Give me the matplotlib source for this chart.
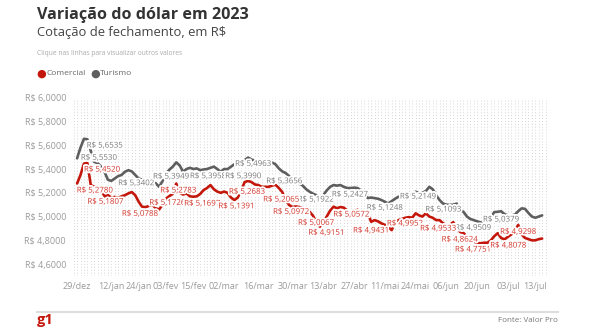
import numpy as np
import pandas as pd
import matplotlib
matplotlib.use('Agg')
import matplotlib.pyplot as plt
import matplotlib.patheffects as pe

plt.rcParams['font.family'] = ['Open Sans', 'DejaVu Sans']

# Trading days (Brazilian FX market) from 29/dez/2022 to 17/jul/2023
HOLIDAYS = ['2023-02-20', '2023-02-21', '2023-04-07', '2023-04-21', '2023-05-01', '2023-06-08']
dates = pd.bdate_range('2022-12-29', '2023-07-17')
dates = dates[~dates.isin(pd.to_datetime(HOLIDAYS))]

# closing values, R$
comercial = [
    5.278, 5.350, 5.445, 5.452, 5.265, 5.250, 5.250, 5.230, 5.170, 5.181,
    5.160, 5.165, 5.158, 5.170, 5.180, 5.195, 5.206, 5.180, 5.125, 5.083,
    5.079, 5.090, 5.100, 5.069, 5.060, 5.100, 5.150, 5.173, 5.190, 5.278,
    5.200, 5.185, 5.195, 5.170, 5.167, 5.170, 5.190, 5.223, 5.240, 5.265,
    5.230, 5.210, 5.200, 5.210, 5.200, 5.160, 5.139, 5.160, 5.220, 5.290,
    5.300, 5.290, 5.270, 5.265, 5.250, 5.250, 5.250, 5.260, 5.268, 5.240,
    5.207, 5.140, 5.097, 5.080, 5.085, 5.080, 5.070, 5.050, 5.040, 5.007,
    4.950, 4.915, 4.950, 5.000, 5.050, 5.083, 5.070, 5.080, 5.075, 5.050,
    5.030, 5.040, 5.057, 5.040, 5.030, 5.027, 4.956, 4.970, 4.960, 4.943,
    4.930, 4.910, 4.886, 4.950, 4.970, 4.980, 4.990, 4.995, 4.990, 5.027,
    5.010, 5.000, 5.027, 5.000, 4.990, 4.970, 4.970, 4.944, 4.930, 4.930,
    4.953, 4.914, 4.870, 4.862, 4.830, 4.800, 4.790, 4.780, 4.775, 4.780,
    4.780, 4.800, 4.835, 4.860, 4.820, 4.808, 4.830, 4.850, 4.880, 4.930,
    4.850, 4.820, 4.810, 4.800, 4.800, 4.810, 4.815,
]
turismo = [
    5.490, 5.580, 5.654, 5.650, 5.553, 5.460, 5.450, 5.420, 5.377, 5.310,
    5.300, 5.320, 5.340, 5.350, 5.377, 5.390, 5.380, 5.350, 5.320, 5.310,
    5.300, 5.290, 5.290, 5.280, 5.250, 5.300, 5.360, 5.395, 5.420, 5.456,
    5.430, 5.377, 5.400, 5.410, 5.400, 5.405, 5.390, 5.396, 5.400, 5.410,
    5.420, 5.400, 5.377, 5.400, 5.399, 5.420, 5.440, 5.460, 5.470, 5.475,
    5.496, 5.480, 5.470, 5.460, 5.460, 5.460, 5.460, 5.455, 5.440, 5.405,
    5.380, 5.366, 5.340, 5.307, 5.290, 5.280, 5.260, 5.230, 5.209, 5.192,
    5.180, 5.160, 5.180, 5.220, 5.250, 5.265, 5.260, 5.265, 5.250, 5.240,
    5.240, 5.243, 5.240, 5.220, 5.195, 5.156, 5.160, 5.155, 5.150, 5.139,
    5.125, 5.110, 5.130, 5.150, 5.167, 5.170, 5.165, 5.170, 5.190, 5.209,
    5.200, 5.200, 5.215, 5.250, 5.230, 5.180, 5.139, 5.110, 5.100, 5.097,
    5.100, 5.109, 5.055, 5.040, 5.000, 4.980, 4.970, 4.960, 4.951, 4.944,
    4.960, 4.990, 5.038, 5.040, 5.045, 5.020, 5.010, 5.010, 5.015, 5.045,
    5.069, 5.065, 5.030, 5.000, 4.990, 5.000, 5.010,
]

TICK_LABELS = ['29/dez', '12/jan', '24/jan', '03/fev', '15/fev', '02/mar', '16/mar', '30/mar',
               '13/abr', '27/abr', '11/mai', '24/mai', '06/jun', '20/jun', '03/jul', '13/jul']
MONTHS = ['jan', 'fev', 'mar', 'abr', 'mai', 'jun', 'jul', 'ago', 'set', 'out', 'nov', 'dez']
Y_TICKS = [4.6, 4.8, 5.0, 5.2, 5.4, 5.6, 5.8, 6.0]

# value labels: (value shown, label x in day index, label y in R$)
turismo_labels = [
    (5.6535, 2.8, 5.593), (5.5530, 1.1, 5.490), (5.3402, 12.0, 5.276), (5.3949, 22.2, 5.332),
    (5.3958, 33.0, 5.335), (5.3990, 43.3, 5.335), (5.4963, 46.2, 5.439), (5.3656, 55.3, 5.293),
    (5.1922, 64.5, 5.139), (5.2427, 74.5, 5.181), (5.1248, 84.7, 5.069), (5.2149, 94.4, 5.164),
    (5.1093, 101.8, 5.055), (4.9509, 110.5, 4.901), (5.0379, 118.7, 4.971),
]
comercial_labels = [
    (5.4520, 2.0, 5.391), (5.2780, -0.1, 5.215), (5.1807, 3.0, 5.120), (5.0788, 13.1, 5.019),
    (5.1726, 21.1, 5.111), (5.2783, 24.3, 5.215), (5.1697, 31.3, 5.105), (5.1391, 41.3, 5.082),
    (5.2683, 44.4, 5.204), (5.2065, 54.4, 5.139), (5.0972, 57.3, 5.035), (5.0067, 64.6, 4.943),
    (4.9151, 67.6, 4.859), (5.0572, 74.9, 5.013), (4.9431, 80.7, 4.878), (4.9952, 90.6, 4.937),
    (4.9533, 100.3, 4.895), (4.8624, 106.6, 4.802), (4.7751, 110.5, 4.718), (4.8078, 120.8, 4.752),
    (4.9298, 123.7, 4.867),
]

RED = '#c4170c'
GRAY = '#5e5e5e'


def brl(v):
    return 'R$ ' + f'{v:.4f}'.replace('.', ',')


fig = plt.figure(figsize=(5.9, 3.3), dpi=100)
ax = fig.add_axes([0.1237, 0.1636, 0.8033, 0.5404])

x = np.arange(len(dates))

# dotted background grid, one column per trading day
for xi in np.arange(-1, len(dates) + 1):
    ax.axvline(xi, color='#d6d6d6', lw=0.7, linestyle=(0, (1, 2)), zorder=0)

ax.plot(x, turismo, color=GRAY, lw=1.9, solid_capstyle='round', solid_joinstyle='round', zorder=2)
ax.plot(x, comercial, color=RED, lw=1.9, solid_capstyle='round', solid_joinstyle='round', zorder=2)

halo = [pe.withStroke(linewidth=2.5, foreground='white')]
for v, lx, ly in turismo_labels:
    ax.text(lx, ly, brl(v), color='#7a7a7a', fontsize=5.7, ha='left', va='center',
            path_effects=halo, zorder=3)
for v, lx, ly in comercial_labels:
    ax.text(lx, ly, brl(v), color='#d0352b', fontsize=5.7, ha='left', va='center',
            path_effects=halo, zorder=3)

ax.set_xlim(-1.2, len(dates) + 0.4)
ax.set_ylim(4.5, 6.0)
ax.set_yticks(Y_TICKS)
ax.set_yticklabels([brl(v) for v in Y_TICKS])
day_names = [d.strftime('%d/') + MONTHS[d.month - 1] for d in dates]
ax.set_xticks([day_names.index(t) for t in TICK_LABELS])
ax.set_xticklabels(TICK_LABELS)
ax.tick_params(length=0, labelsize=6.5, colors='#9a9a9a', pad=4)
ax.tick_params(axis='y', pad=5)
for s in ax.spines.values():
    s.set_visible(False)

# header
fig.text(0.063, 0.955, 'Variação do dólar em 2023', fontsize=11.6, fontweight='bold', color='#333333', va='center')
fig.text(0.063, 0.902, 'Cotação de fechamento, em R$', fontsize=9.4, color='#444444', va='center')
fig.text(0.063, 0.838, 'Clique nas linhas para visualizar outros valores', fontsize=4.8, color='#aaaaaa', va='center')
fig.text(0.061, 0.776, '●', fontsize=8, color=RED, va='center', family=['DejaVu Sans'])
fig.text(0.078, 0.776, 'Comercial', fontsize=6.0, color='#666666', va='center')
fig.text(0.153, 0.776, '●', fontsize=8, color=GRAY, va='center', family=['DejaVu Sans'])
fig.text(0.170, 0.776, 'Turismo', fontsize=6.0, color='#666666', va='center')

# footer
fy = 1 - 312 / 330
fig.add_artist(plt.Line2D([0.063, 0.945], [fy, fy], transform=fig.transFigure, color='#dddddd', lw=1.5))
fig.text(0.063, 1 - 320 / 330, 'g1', fontsize=10.5, fontweight='bold', color=RED, va='center')
fig.text(0.945, 1 - 321 / 330, 'Fonte: Valor Pro', fontsize=5.8, color='#777777', va='center', ha='right')

fig.savefig('out.png', dpi=100)
